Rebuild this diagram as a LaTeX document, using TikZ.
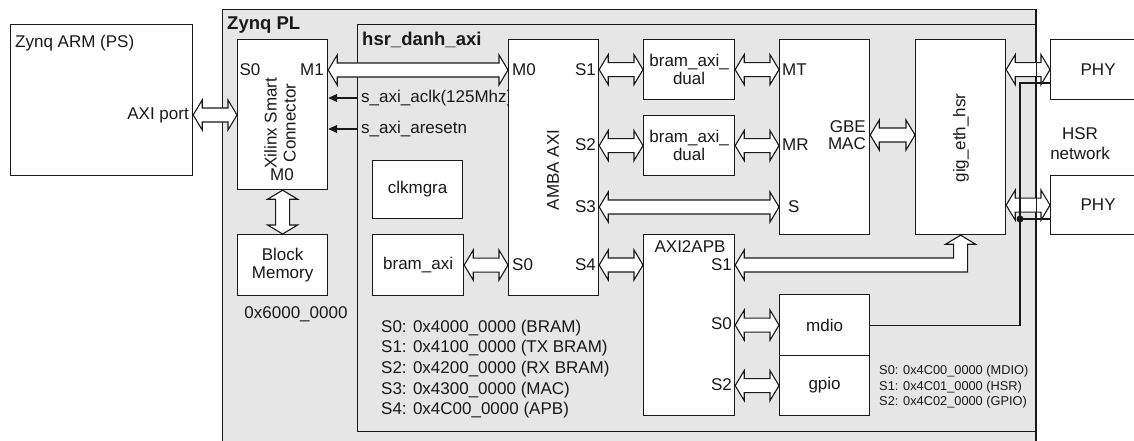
\documentclass[tikz,border=0pt]{standalone}
\usepackage{fontspec}
\setmainfont{Liberation Sans}
\usepackage{xcolor}
\definecolor{plgray}{RGB}{230,230,230}
\definecolor{ink}{RGB}{25,25,25}
\usepackage{tikz}
\usetikzlibrary{arrows.meta,calc}
\tikzset{
  %% Blocks and shaded regions
  blk/.style={draw=ink, fill=white, line width=1.2pt, inner sep=0pt,
              anchor=north west, align=center, text=ink,
              font=\fontsize{17}{17.5}\selectfont},
  region/.style={draw=ink, fill=plgray, line width=1.2pt, inner sep=0pt,
                 anchor=north west},
  %% Texts
  lbl/.style={inner sep=0pt, text=ink, font=\fontsize{17}{19}\selectfont},
  ttl/.style={inner sep=0pt, text=ink, font=\fontsize{18.5}{20}\selectfont\bfseries},
  addr/.style={inner sep=0pt, text=ink, align=left},
  %% Connectors
  fatarrow/.style={draw=ink, fill=white, line width=1.1pt, line join=miter},
  sig/.style={draw=ink, line width=1.1pt, -{Triangle[length=9pt,width=8pt]}},
  wire/.style={draw=ink, line width=1.1pt},
}
%% hollow bus arrows: horizontal, vertical, bent (left tip, bottom of target)
\newcommand{\harrow}[2]{%
  \draw[fatarrow] let \p1=(#1), \p2=(#2) in
    (\x1,\y1) -- (\x1+9pt,\y1+15pt) -- (\x1+9pt,\y1+7pt) -- (\x2-9pt,\y1+7pt)
    -- (\x2-9pt,\y1+15pt) -- (\x2,\y1) -- (\x2-9pt,\y1-15pt) -- (\x2-9pt,\y1-7pt)
    -- (\x1+9pt,\y1-7pt) -- (\x1+9pt,\y1-15pt) -- cycle;}
\newcommand{\varrow}[2]{%
  \draw[fatarrow] let \p1=(#1), \p2=(#2) in
    (\x1,\y1) -- (\x1+15pt,\y1-9pt) -- (\x1+7pt,\y1-9pt) -- (\x1+7pt,\y2+9pt)
    -- (\x1+15pt,\y2+9pt) -- (\x1,\y2) -- (\x1-15pt,\y2+9pt) -- (\x1-7pt,\y2+9pt)
    -- (\x1-7pt,\y1-9pt) -- (\x1-15pt,\y1-9pt) -- cycle;}
\newcommand{\bentarrow}[2]{%
  \draw[fatarrow] let \p1=(#1), \p2=(#2) in
    (\x1,\y1) -- (\x1+9pt,\y1+15pt) -- (\x1+9pt,\y1+7pt) -- (\x2-7pt,\y1+7pt)
    -- (\x2-7pt,\y2-9pt) -- (\x2-15pt,\y2-9pt) -- (\x2,\y2) -- (\x2+15pt,\y2-9pt)
    -- (\x2+7pt,\y2-9pt) -- (\x2+7pt,\y1-7pt) -- (\x1+9pt,\y1-7pt)
    -- (\x1+9pt,\y1-15pt) -- cycle;}

\begin{document}
\begin{tikzpicture}[x=1pt,y=-1pt]
\path[use as bounding box, fill=white] (0,0) rectangle (1134,441);

%% PL and the hsr_danh_axi core
\node[region, minimum width=813pt, minimum height=460pt] (pl) at (222,9) {};
\node[region, minimum width=678pt, minimum height=407pt] (hsr) at (357,24) {};
\node[ttl, anchor=west] (pltitle) at (227,25) {Zynq PL};
\node[ttl, anchor=west] (hsrtitle) at (362,40) {hsr\_danh\_axi};

%% processing system
\node[blk, minimum width=182pt, minimum height=151pt] (arm) at (10,24) {};
\node[lbl, anchor=west] (armtitle) at (15,43) {Zynq ARM (PS)};
\node[lbl, anchor=east] (axiport) at (189,115) {AXI port};

%% smart connector, block memory
\node[blk, minimum width=90pt, minimum height=150pt] (conn) at (237,39) {};
\node[lbl, rotate=90, align=center] (conntxt) at (280,123) {Xilinx Smart\\Connector};
\node[lbl] (cs0) at (250,70) {S0};
\node[lbl, anchor=east] (cm1) at (324,70) {M1};
\node[lbl] (cm0) at (282,175) {M0};
\node[blk, minimum width=90pt, minimum height=61pt] (bmem) at (237,234) {Block\\Memory};
\node[lbl] (bmaddr) at (296,314) {0x6000\_0000};
\node[lbl, anchor=west] (aclk) at (361,98) {s\_axi\_aclk(125Mhz)};
\node[lbl, anchor=west] (arst) at (361,129) {s\_axi\_aresetn};

%% AMBA AXI interconnect
\node[blk, minimum width=90pt, minimum height=256pt] (amba) at (508,39) {};
\node[lbl, rotate=90] (ambatxt) at (553,170) {AMBA AXI};
\node[lbl, anchor=west] (am0) at (512,70) {M0};
\node[lbl, anchor=east] (as1) at (596,70) {S1};
\node[lbl, anchor=east] (as2) at (596,145) {S2};
\node[lbl, anchor=east] (as3) at (596,207) {S3};
\node[lbl, anchor=east] (as4) at (596,265) {S4};
\node[lbl, anchor=west] (as0) at (512,265) {S0};
\node[blk, minimum width=90pt, minimum height=58pt] (clk) at (372,160) {clkmgra};
\node[blk, minimum width=91pt, minimum height=61pt] (bram) at (372,234) {bram\_axi};

%% buffers, MAC, HSR core
\node[blk, minimum width=91pt, minimum height=60pt] (dual1) at (643,39) {bram\_axi\_\\dual};
\node[blk, minimum width=91pt, minimum height=60pt] (dual2) at (643,115) {bram\_axi\_\\dual};
\node[blk, minimum width=90pt, minimum height=195pt] (mac) at (779,39) {};
\node[lbl, anchor=west] (mt) at (782,70) {MT};
\node[lbl, anchor=west] (mr) at (782,145) {MR};
\node[lbl, anchor=west] (ms) at (788,207) {S};
\node[lbl, anchor=east, align=right, font=\fontsize{17}{17.5}\selectfont] (gbe) at (866,135) {GBE\\MAC};
\node[blk, minimum width=90pt, minimum height=195pt] (gig) at (915,39) {};
\node[lbl, rotate=90] (gigtxt) at (961,138) {gig\_eth\_hsr};

%% APB side
\node[blk, minimum width=91pt, minimum height=181pt] (apb) at (643,234) {};
\node[lbl] (apbtxt) at (690,247) {AXI2APB};
\node[lbl, anchor=east] (ps1) at (732,265) {S1};
\node[lbl, anchor=east] (ps0) at (732,324) {S0};
\node[lbl, anchor=east] (ps2) at (732,385) {S2};
\node[blk, minimum width=90pt, minimum height=61pt] (mdio) at (779,294) {mdio};
\node[blk, minimum width=90pt, minimum height=60pt] (gpio) at (779,355) {gpio};

%% PHYs
\node[blk, minimum width=95pt, minimum height=60pt] (phy1) at (1050,39) {PHY};
\node[blk, minimum width=95pt, minimum height=59pt] (phy2) at (1050,175) {PHY};
\node[lbl, align=center, font=\fontsize{17}{20}\selectfont] (hsrnet) at (1080,144) {HSR\\network};

%% address maps
\node[addr, anchor=west, font=\fontsize{17}{20.7}\selectfont] (axmap) at (381,369) {%
  S0: 0x4000\_0000 (BRAM)\\ S1: 0x4100\_0000 (TX BRAM)\\ S2: 0x4200\_0000 (RX BRAM)\\
  S3: 0x4300\_0000 (MAC)\\ S4: 0x4C00\_0000 (APB)};
\node[addr, anchor=west, font=\fontsize{12.8}{15.5}\selectfont] (apbmap) at (879,387) {%
  S0: 0x4C00\_0000 (MDIO)\\ S1: 0x4C01\_0000 (HSR)\\ S2: 0x4C02\_0000 (GPIO)};

%% bus connections
\harrow{arm.east |- axiport}{conn.west |- axiport}
\harrow{conn.east |- cm1}{amba.west |- cm1}
\varrow{conn.south}{bmem.north}
\harrow{bram.east}{amba.west |- bram.east}
\harrow{amba.east |- dual1.west}{dual1.west}
\harrow{dual1.east}{mac.west |- dual1.east}
\harrow{amba.east |- dual2.west}{dual2.west}
\harrow{dual2.east}{mac.west |- dual2.east}
\harrow{amba.east |- as3}{mac.west |- as3}
\harrow{amba.east |- as4}{apb.west |- as4}
\harrow{mac.east |- gbe}{gig.west |- gbe}
\harrow{gig.east |- phy1.west}{phy1.west}
\harrow{gig.east |- phy2.west}{phy2.west}
\harrow{apb.east |- mdio.west}{mdio.west}
\harrow{apb.east |- gpio.west}{gpio.west}
\bentarrow{apb.east |- ps1}{gig.south}

%% clock and reset
\draw[sig] (hsr.west |- aclk) -- (conn.east |- aclk);
\draw[sig] (hsr.west |- arst) -- (conn.east |- arst);

%% mdio to both PHYs
\coordinate (mtop) at (1020,83);
\coordinate (mtap) at (1020,219);
\draw[wire] (mdio.east) -| (mtop) -- (phy1.west |- mtop);
\draw[wire] (mtap) -- (phy2.west |- mtap);
\fill[ink] (mtap) circle (3.5pt);
\draw[wire, line width=1.2pt] (pl.north east) -- (pl.south east);
\end{tikzpicture}
\end{document}
